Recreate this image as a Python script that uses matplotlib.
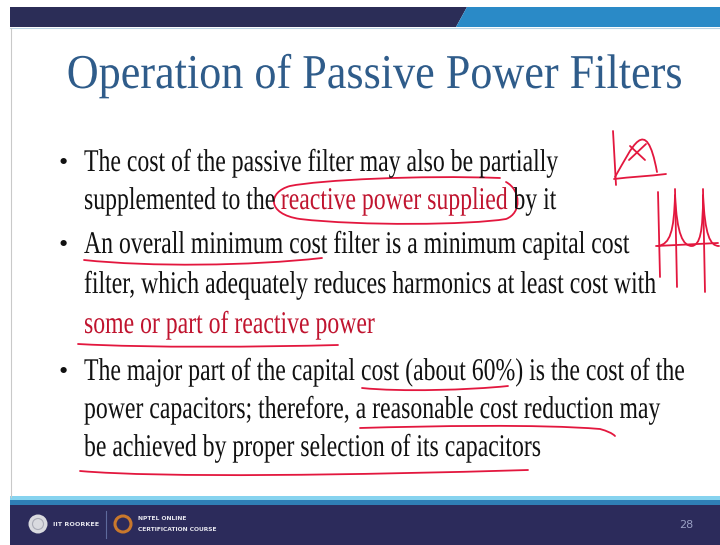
import matplotlib.pyplot as plt
import matplotlib.patheffects as pe
from matplotlib.transforms import Affine2D
from matplotlib.patches import Polygon, Rectangle, Circle, PathPatch
from matplotlib.path import Path

# slide text
title = "Operation of Passive Power Filters"
bullets = [
    [[("The cost of the passive filter may also be partially", "k")],
     [("supplemented to the", "k"), (" reactive power supplied", "r"), (" by it", "k")]],
    [[("An overall minimum cost filter is a minimum capital cost", "k")],
     [("filter, which adequately reduces harmonics at least cost with", "k")],
     [("some or part of reactive power", "r")]],
    [[("The major part of the capital cost (about 60%) is the cost of the", "k")],
     [("power capacitors; therefore, a reasonable cost reduction may", "k")],
     [("be achieved by proper selection of its capacitors", "k")]],
]
baselines = [[171, 209], [253, 293, 333], [380, 418, 456]]
page_no = "28"

# hand-drawn pen strokes (moveto + cubic bezier triples)
pen_strokes = [
    [(500, 178), (420, 175), (320, 180), (290, 186), (268, 192), (266, 214), (300, 219),
     (360, 226), (470, 225), (506, 219), (522, 213), (521, 190), (506, 182)],
    [(84, 260), (150, 267), (250, 266), (322, 258)],
    [(78, 344), (150, 348), (260, 347), (338, 345)],
    [(362, 388), (400, 392), (470, 390), (508, 386)],
    [(360, 428), (430, 426), (540, 424), (600, 429), (607, 431), (612, 433), (615, 436)],
    [(80, 471), (160, 478), (360, 475), (528, 470)],
    # kA sketch
    [(613, 131), (616, 185)],
    [(614, 179), (630, 177), (650, 176), (666, 174)],
    [(615, 177), (632, 148), (646, 112), (657, 172)],
    [(630, 146), (645, 160)],
    [(629, 160), (646, 144)],
    # waveform sketch
    [(658, 192), (660, 277)],
    [(675, 189), (677, 287)],
    [(703, 189), (705, 292)],
    [(656, 246), (718, 243)],
    [(658, 246), (670, 244), (674, 232), (675, 195), (677, 235), (683, 246), (692, 246),
     (700, 245), (703, 232), (703, 195), (705, 235), (710, 246), (719, 246)],
]

colors = {"k": "#111111", "r": "#c0142f"}
PEN = "#e3173e"

W, H = 720, 545


class Stretch(pe.AbstractPathEffect):
    # stretch glyphs vertically about the baseline (slide font is tall and narrow)
    def __init__(self, baseline, sy):
        super().__init__()
        self.y0, self.sy = H - baseline, sy

    def draw_path(self, renderer, gc, tpath, affine, rgbFace=None):
        t = affine + Affine2D().translate(0, -self.y0).scale(1, self.sy).translate(0, self.y0)
        renderer.draw_path(gc, tpath, t, rgbFace)


fig = plt.figure(figsize=(7.2, 5.45), dpi=100)
ax = fig.add_axes([0, 0, 1, 1])
ax.set_xlim(0, W)
ax.set_ylim(H, 0)
ax.axis("off")

# top bar
ax.add_patch(Polygon([(10, 7), (467, 7), (456, 27), (10, 27)], color="#2b2d57", lw=0))
ax.add_patch(Polygon([(467, 7), (720, 7), (720, 27), (456, 27)], color="#2a8ac7", lw=0))
ax.plot([10, 720], [28, 28], color="#b9d3e3", lw=0.8)
# left border
ax.plot([10.5, 10.5], [28, 497], color="#c9c9c9", lw=0.8)

# footer
ax.add_patch(Rectangle((10, 496), 710, 4, color="#86d3ef", lw=0))
ax.add_patch(Rectangle((10, 500), 710, 5, color="#2f7fb6", lw=0))
ax.add_patch(Rectangle((10, 505), 710, 40, color="#2c2b5b", lw=0))
ax.add_patch(Circle((38, 524), 9.5, color="#d9dadf", lw=0))
ax.add_patch(Circle((38, 524), 5.5, fill=False, ec="#a9abb6", lw=0.8))
ax.text(53, 524, "IIT ROORKEE", fontsize=4.6, fontweight="bold", color="#e6e6ee",
        va="center", ha="left")
ax.plot([106, 106], [511, 538], color="#5e6a9c", lw=0.8)
ax.add_patch(Circle((123, 524), 8, fill=False, ec="#c9782c", lw=2.2))
ax.text(138, 519, "NPTEL ONLINE", fontsize=4.3, fontweight="bold", color="#e6e6ee",
        va="center", ha="left")
ax.text(138, 529.5, "CERTIFICATION COURSE", fontsize=4.3, fontweight="bold",
        color="#e6e6ee", va="center", ha="left")
ax.text(686, 525, page_no, fontsize=8, color="#9aa0c4", va="center", ha="center")

# title
ax.text(374, 88, title, ha="center", va="baseline", fontsize=31.8,
        family="Liberation Serif", color="#2f5c8a",
        path_effects=[Stretch(88, 1.1)])

# bullet text
X0, FS, SY = 84, 17.1, 1.33
for lines, ys in zip(bullets, baselines):
    ax.text(63, ys[0] - 1, "\u2022", fontsize=19, family="Liberation Serif",
            color=colors["k"], ha="center", va="baseline")
    for segs, y in zip(lines, ys):
        prev = None
        for s, c in segs:
            kw = dict(fontsize=FS, family="Liberation Serif", color=colors[c],
                      path_effects=[Stretch(y, SY)])
            if prev is None:
                prev = ax.text(X0, y, s, ha="left", va="baseline", **kw)
            else:
                prev = ax.annotate(s, xy=(1, 0), xycoords=prev, ha="left",
                                   va="bottom", **kw)

# pen annotations
for pts in pen_strokes:
    if len(pts) == 2:
        codes = [Path.MOVETO, Path.LINETO]
    else:
        codes = [Path.MOVETO] + [Path.CURVE4] * (len(pts) - 1)
    ax.add_patch(PathPatch(Path(pts, codes), fill=False, ec=PEN, lw=1.3,
                           capstyle="round", joinstyle="round"))

fig.savefig("out.png", dpi=100)
